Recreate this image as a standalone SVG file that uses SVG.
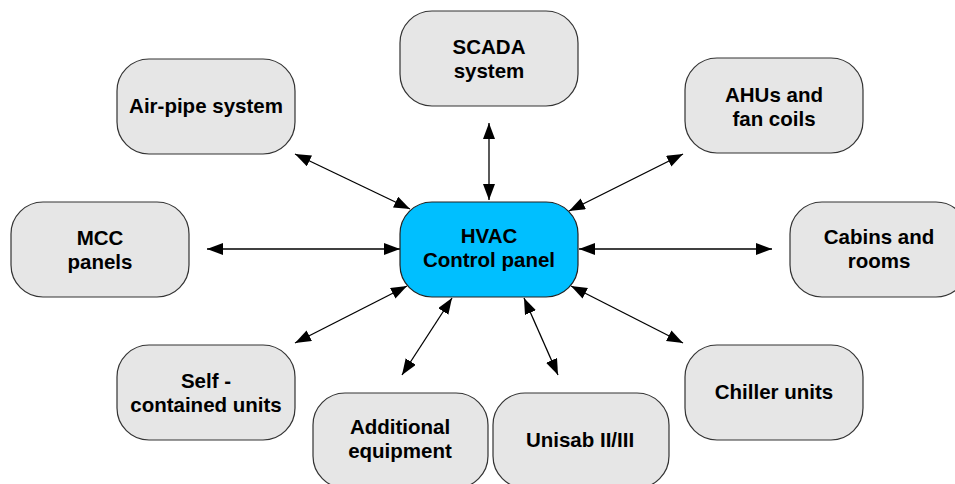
<svg xmlns="http://www.w3.org/2000/svg" width="955" height="484" viewBox="0 0 955 484">
<style>
.box{fill:#e6e6e6;stroke:#333;stroke-width:1.2}
.hub{fill:#00bfff;stroke:#222;stroke-width:1.2}
.lbl{font-family:"Liberation Sans",Arial,sans-serif;font-weight:bold;font-size:20.5px;fill:#000;text-anchor:middle}
.arr{stroke:#000;stroke-width:1.3;fill:none;marker-start:url(#ah);marker-end:url(#ah)}
</style>
<defs>
<marker id="ah" markerUnits="userSpaceOnUse" markerWidth="17" markerHeight="13" refX="16" refY="6" orient="auto-start-reverse">
<path d="M0,0 L16,6 L0,12 z" fill="#000"/>
</marker>
</defs>
<rect width="955" height="484" fill="#fff"/>
<g id="connectors">
<line class="arr" x1="489" y1="123" x2="489" y2="200"/>
<line class="arr" x1="295" y1="154" x2="410" y2="209"/>
<line class="arr" x1="683" y1="154" x2="569" y2="211"/>
<line class="arr" x1="207" y1="249" x2="400" y2="249"/>
<line class="arr" x1="579" y1="249" x2="772" y2="249"/>
<line class="arr" x1="295" y1="343" x2="407" y2="286"/>
<line class="arr" x1="683" y1="343" x2="571" y2="286"/>
<line class="arr" x1="402" y1="375" x2="452" y2="298"/>
<line class="arr" x1="558" y1="375" x2="524" y2="298"/>
</g>
<g id="hvac">
<rect class="hub" x="400" y="202" width="178" height="95" rx="32" ry="32"/>
<text class="lbl" x="489" y="243">HVAC</text>
<text class="lbl" x="489" y="267">Control panel</text>
</g>
<g id="scada">
<rect class="box" x="400" y="11" width="178" height="95" rx="32" ry="32"/>
<text class="lbl" x="489" y="54">SCADA</text>
<text class="lbl" x="489" y="78">system</text>
</g>
<g id="airpipe">
<rect class="box" x="117" y="59" width="178" height="95" rx="32" ry="32"/>
<text class="lbl" x="206" y="113">Air-pipe system</text>
</g>
<g id="ahus">
<rect class="box" x="685" y="58" width="178" height="95" rx="32" ry="32"/>
<text class="lbl" x="774" y="102">AHUs and</text>
<text class="lbl" x="774" y="126">fan coils</text>
</g>
<g id="mcc">
<rect class="box" x="11" y="202" width="178" height="95" rx="32" ry="32"/>
<text class="lbl" x="100" y="245">MCC</text>
<text class="lbl" x="100" y="269">panels</text>
</g>
<g id="cabins">
<rect class="box" x="790" y="202" width="178" height="95" rx="32" ry="32"/>
<text class="lbl" x="879" y="244">Cabins and</text>
<text class="lbl" x="879" y="268">rooms</text>
</g>
<g id="selfcontained">
<rect class="box" x="117" y="345" width="178" height="95" rx="32" ry="32"/>
<text class="lbl" x="206" y="388">Self -</text>
<text class="lbl" x="206" y="412">contained units</text>
</g>
<g id="chiller">
<rect class="box" x="685" y="345" width="178" height="95" rx="32" ry="32"/>
<text class="lbl" x="774" y="399">Chiller units</text>
</g>
<g id="additional">
<rect class="box" x="313" y="393" width="175" height="95" rx="32" ry="32"/>
<text class="lbl" x="400" y="434">Additional</text>
<text class="lbl" x="400" y="458">equipment</text>
</g>
<g id="unisab">
<rect class="box" x="493" y="393" width="176" height="95" rx="32" ry="32"/>
<text class="lbl" x="580" y="447">Unisab II/III</text>
</g>
</svg>
